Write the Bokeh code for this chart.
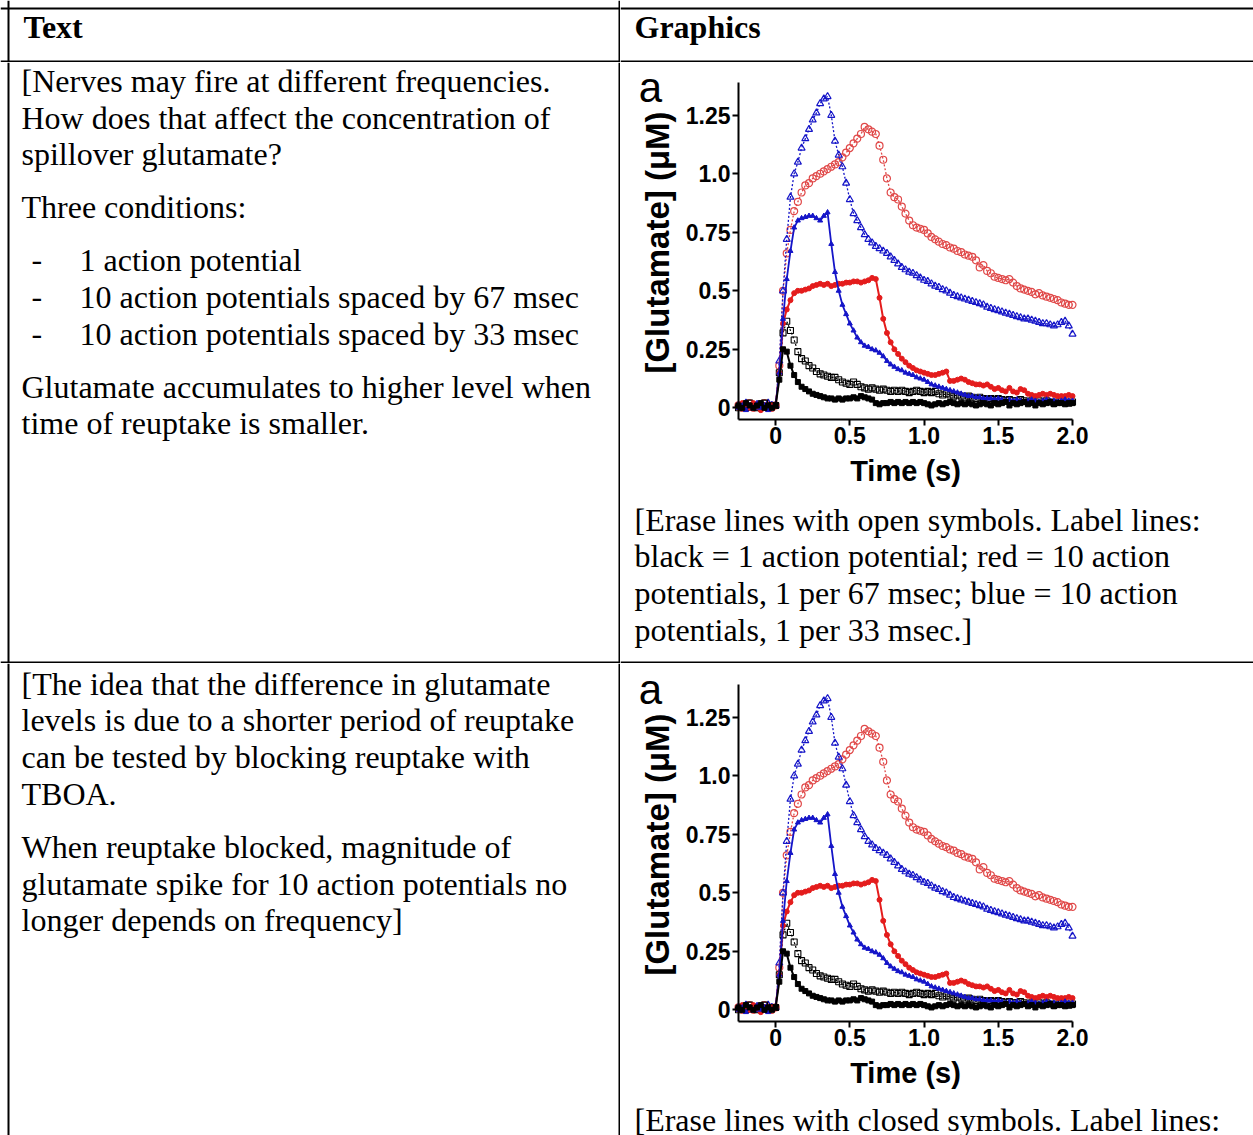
import math
from bokeh.plotting import figure
from bokeh.models import Range1d, Span, Label, FixedTicker, ColumnDataSource, LinearAxis
from bokeh.layouts import column, row
from bokeh.embed import file_html
from bokeh.resources import INLINE

# ---------------- data ----------------
time_s = [
    -0.25, -0.225, -0.2, -0.175, -0.15, -0.125, -0.1, -0.075, -0.05, -0.025,
    0.0, 0.025, 0.05, 0.075, 0.1, 0.125, 0.15, 0.175, 0.2, 0.225,
    0.25, 0.275, 0.3, 0.325, 0.35, 0.375, 0.4, 0.425, 0.45, 0.475,
    0.5, 0.525, 0.55, 0.575, 0.6, 0.625, 0.65, 0.675, 0.7, 0.725,
    0.75, 0.775, 0.8, 0.825, 0.85, 0.875, 0.9, 0.925, 0.95, 0.975,
    1.0, 1.025, 1.05, 1.075, 1.1, 1.125, 1.15, 1.175, 1.2, 1.225,
    1.25, 1.275, 1.3, 1.325, 1.35, 1.375, 1.4, 1.425, 1.45, 1.475,
    1.5, 1.525, 1.55, 1.575, 1.6, 1.625, 1.65, 1.675, 1.7, 1.725,
    1.75, 1.775, 1.8, 1.825, 1.85, 1.875, 1.9, 1.925, 1.95, 1.975,
    2.0,
]

# 1 action potential (closed squares)
black_closed = [
    0.01, 0.0, 0.02, 0.01, 0.0, 0.01, 0.02, 0.0, 0.01, 0.0,
    0.01, 0.12, 0.25, 0.24, 0.18, 0.14, 0.11, 0.09, 0.08, 0.07,
    0.06, 0.055, 0.05, 0.045, 0.04, 0.04, 0.035, 0.04, 0.035, 0.04,
    0.04, 0.045, 0.04, 0.05, 0.045, 0.04, 0.035, 0.02, 0.015, 0.02,
    0.02, 0.025, 0.02, 0.025, 0.02, 0.025, 0.02, 0.025, 0.02, 0.025,
    0.02, 0.015, 0.01, 0.015, 0.02, 0.015, 0.02, 0.025, 0.02, 0.015,
    0.02, 0.015, 0.02, 0.015, 0.01, 0.015, 0.02, 0.015, 0.01, 0.02,
    0.015, 0.02, 0.025, 0.01, 0.02, 0.015, 0.02, 0.025, 0.015, 0.02,
    0.01, 0.02, 0.015, 0.02, 0.025, 0.015, 0.02, 0.02, 0.015, 0.02,
    0.02,
]
# 1 action potential (open squares)
black_open = [
    0.0, 0.01, 0.0, 0.02, 0.01, 0.0, 0.01, 0.02, 0.0, 0.01,
    0.01, 0.15, 0.32, 0.37, 0.33, 0.29, 0.24, 0.21, 0.20, 0.18,
    0.17, 0.155, 0.145, 0.14, 0.135, 0.13, 0.13, 0.12, 0.11, 0.105,
    0.10, 0.11, 0.10, 0.09, 0.085, 0.08, 0.085, 0.08, 0.075, 0.08,
    0.075, 0.07, 0.075, 0.07, 0.075, 0.07, 0.065, 0.07, 0.075, 0.07,
    0.065, 0.07, 0.065, 0.07, 0.06, 0.055, 0.06, 0.055, 0.05, 0.055,
    0.05, 0.045, 0.05, 0.045, 0.04, 0.045, 0.04, 0.035, 0.04, 0.035,
    0.04, 0.035, 0.03, 0.035, 0.03, 0.03, 0.035, 0.03, 0.025, 0.03,
    0.025, 0.03, 0.025, 0.03, 0.025, 0.02, 0.025, 0.03, 0.025, 0.02,
    0.025,
]
# 10 APs, 1 per 67 msec (closed circles)
red_closed = [
    0.0, 0.02, 0.01, 0.0, 0.02, 0.01, -0.01, 0.01, 0.0, 0.01,
    0.01, 0.15, 0.36, 0.42, 0.46, 0.49, 0.50, 0.50, 0.505, 0.51,
    0.52, 0.525, 0.53, 0.525, 0.53, 0.52, 0.525, 0.53, 0.53, 0.535,
    0.535, 0.54, 0.54, 0.535, 0.54, 0.545, 0.555, 0.55, 0.47, 0.38,
    0.32, 0.28, 0.25, 0.23, 0.21, 0.195, 0.18, 0.17, 0.16, 0.155,
    0.15, 0.145, 0.14, 0.14, 0.145, 0.15, 0.155, 0.115, 0.115, 0.12,
    0.125, 0.12, 0.11, 0.105, 0.10, 0.10, 0.095, 0.10, 0.09, 0.08,
    0.085, 0.075, 0.07, 0.085, 0.07, 0.065, 0.08, 0.075, 0.06, 0.055,
    0.05, 0.055, 0.06, 0.055, 0.06, 0.055, 0.05, 0.05, 0.05, 0.055,
    0.05,
]
# 10 APs, 1 per 67 msec (open circles)
red_open = [
    0.01, 0.0, 0.01, 0.02, 0.0, 0.01, 0.0, 0.02, 0.01, 0.0,
    0.01, 0.18, 0.50, 0.66, 0.76, 0.84, 0.88, 0.92, 0.95, 0.96,
    0.98, 0.99, 1.0, 1.01, 1.02, 1.03, 1.04, 1.05, 1.07, 1.09,
    1.11, 1.13, 1.15, 1.17, 1.20, 1.19, 1.18, 1.17, 1.12, 1.06,
    0.98, 0.92, 0.90, 0.89, 0.86, 0.83, 0.80, 0.78, 0.77, 0.765,
    0.76, 0.745, 0.73, 0.72, 0.71, 0.70, 0.695, 0.685, 0.68, 0.67,
    0.665, 0.655, 0.65, 0.645, 0.63, 0.60, 0.61, 0.585, 0.575, 0.56,
    0.555, 0.55, 0.545, 0.55, 0.535, 0.52, 0.51, 0.505, 0.50, 0.495,
    0.485, 0.49, 0.48, 0.475, 0.47, 0.465, 0.46, 0.45, 0.445, 0.44,
    0.44,
]
# 10 APs, 1 per 33 msec (closed triangles)
blue_closed = [
    0.0, 0.01, -0.01, 0.01, 0.0, 0.02, 0.0, 0.01, -0.01, 0.0,
    0.01, 0.15, 0.38, 0.55, 0.67, 0.77, 0.80, 0.81, 0.815, 0.82,
    0.82, 0.81, 0.80, 0.82, 0.835, 0.70, 0.58, 0.50, 0.44, 0.40,
    0.36, 0.33, 0.30, 0.28, 0.265, 0.26, 0.25, 0.245, 0.235, 0.22,
    0.20, 0.185, 0.175, 0.165, 0.16, 0.15, 0.145, 0.14, 0.13, 0.125,
    0.12, 0.11, 0.10, 0.095, 0.09, 0.085, 0.08, 0.075, 0.07, 0.065,
    0.06, 0.055, 0.05, 0.05, 0.045, 0.045, 0.04, 0.04, 0.04, 0.035,
    0.04, 0.035, 0.03, 0.035, 0.03, 0.035, 0.03, 0.025, 0.03, 0.035,
    0.03, 0.025, 0.03, 0.035, 0.03, 0.03, 0.025, 0.03, 0.035, 0.03,
    0.03,
]
# 10 APs, 1 per 33 msec (open triangles)
blue_open = [
    0.01, 0.0, 0.02, 0.0, 0.01, 0.0, 0.01, 0.0, 0.02, 0.01,
    0.01, 0.20, 0.50, 0.72, 0.90, 1.0, 1.05, 1.11, 1.15, 1.19,
    1.23, 1.26, 1.30, 1.32, 1.33, 1.25, 1.14, 1.08, 1.03, 0.96,
    0.89, 0.83, 0.80, 0.77, 0.74, 0.72, 0.705, 0.69, 0.68, 0.67,
    0.66, 0.645, 0.63, 0.615, 0.60, 0.59, 0.58, 0.575, 0.565, 0.555,
    0.545, 0.54, 0.53, 0.52, 0.515, 0.505, 0.50, 0.49, 0.48, 0.475,
    0.47, 0.465, 0.46, 0.455, 0.45, 0.445, 0.44, 0.43, 0.425, 0.42,
    0.415, 0.41, 0.405, 0.40, 0.395, 0.39, 0.385, 0.38, 0.38, 0.375,
    0.37, 0.365, 0.36, 0.36, 0.355, 0.35, 0.355, 0.365, 0.37, 0.35,
    0.315,
]

x_tick_values = [0, 0.5, 1.0, 1.5, 2.0]
x_tick_labels = ["0", "0.5", "1.0", "1.5", "2.0"]
y_tick_values = [0, 0.25, 0.5, 0.75, 1.0, 1.25]
y_tick_labels = ["0", "0.25", "0.5", "0.75", "1.0", "1.25"]
x_axis_title = "Time (s)"
y_axis_title = "[Glutamate] (\u03bcM)"
panel_letter = "a"

header_texts = ["Text", "Graphics"]
row1_text = [
    "[Nerves may fire at different frequencies.",
    "How does that affect the concentration of",
    "spillover glutamate?",
    "Three conditions:",
]
row1_bullets = [
    "1 action potential",
    "10 action potentials spaced by 67 msec",
    "10 action potentials spaced by 33 msec",
]
row1_tail = [
    "Glutamate accumulates to higher level when",
    "time of reuptake is smaller.",
]
caption1 = [
    "[Erase lines with open symbols. Label lines:",
    "black = 1 action potential; red = 10 action",
    "potentials, 1 per 67 msec; blue = 10 action",
    "potentials, 1 per 33 msec.]",
]
row2_text = [
    "[The idea that the difference in glutamate",
    "levels is due to a shorter period of reuptake",
    "can be tested by blocking reuptake with",
    "TBOA.",
    "When reuptake blocked, magnitude of",
    "glutamate spike for 10 action potentials no",
    "longer depends on frequency]",
]
caption2 = ["[Erase lines with closed symbols. Label lines:"]

# ---------------- styling / layout constants ----------------
SERIF = "Liberation Serif"
SANS = "Liberation Sans"
TXT = "32px"
BLUE = "#1515c8"
RED = "#e41c1c"
RED_OPEN = "#e04848"

W_L, W_R = 620, 633          # column widths
H_HEAD, H_R1, H_R2 = 62, 601, 472
X0, X1 = -0.25, 2.0          # plotted axis extents
Y0, Y1 = -0.05, 1.39
LB, FW, FH = 118, 334, 337   # chart inset and frame size (px)
KX = FW / (X1 - X0)
KY = FH / (Y1 - Y0)


def cell(w, h, borders=()):
    p = figure(width=w, height=h, x_range=Range1d(0, w), y_range=Range1d(h, 0),
               x_axis_type=None, y_axis_type=None, toolbar_location=None,
               output_backend="svg", min_border=0, outline_line_color=None,
               background_fill_color="white", border_fill_color="white")
    for dim, loc in borders:
        p.add_layout(Span(location=loc, dimension=dim, line_color="black", line_width=2))
    return p


def put(p, x, y, txt, bold=False, size=TXT, font=SERIF, align="left", angle=0.0):
    p.add_layout(Label(x=x, y=y, text=txt, text_font=font, text_font_size=size,
                       text_font_style="bold" if bold else "normal", angle=angle,
                       text_baseline="middle", text_align=align, text_color="black"))


def chart(h, tb, captions, cap_y, bottom_line):
    x_start = X0 - LB / KX
    x_end = X1 + (W_R - LB - FW) / KX
    y_end = Y1 + tb / KY
    y_start = Y0 - (h - tb - FH) / KY

    def px(lx):
        return x_start + lx / KX

    def py(ly):
        return y_end - ly / KY

    p = figure(width=W_R, height=h, x_range=Range1d(x_start, x_end),
               y_range=Range1d(y_start, y_end), x_axis_type=None, y_axis_type=None,
               min_border=0, toolbar_location=None, output_backend="svg",
               outline_line_color=None, background_fill_color="white",
               border_fill_color="white")
    src = ColumnDataSource(dict(t=time_s, bc=black_closed, bo=black_open,
                                rc=red_closed, ro=red_open,
                                uc=blue_closed, uo=blue_open))
    # open-symbol series (dotted)
    p.line("t", "ro", source=src, line_color=RED_OPEN, line_width=1.3, line_dash="2 2")
    p.scatter("t", "ro", source=src, marker="circle", size=7, line_color=RED_OPEN,
              fill_color=None, line_width=1.2)
    p.line("t", "uo", source=src, line_color=BLUE, line_width=1.3, line_dash="2 2")
    p.scatter("t", "uo", source=src, marker="triangle", size=7, line_color=BLUE,
              fill_color=None, line_width=1.2)
    p.line("t", "bo", source=src, line_color="black", line_width=1.2, line_dash="2 2")
    p.scatter("t", "bo", source=src, marker="square", size=6, line_color="black",
              fill_color=None, line_width=1.1)
    # closed-symbol series (solid)
    p.line("t", "rc", source=src, line_color=RED, line_width=2)
    p.scatter("t", "rc", source=src, marker="circle", size=5, color=RED)
    p.line("t", "uc", source=src, line_color=BLUE, line_width=1.8)
    p.scatter("t", "uc", source=src, marker="triangle", size=5, color=BLUE)
    p.line("t", "bc", source=src, line_color="black", line_width=2)
    p.scatter("t", "bc", source=src, marker="square", size=5, color="black")

    xaxis = LinearAxis(fixed_location=Y0, bounds=(X0, X1),
                       ticker=FixedTicker(ticks=x_tick_values),
                       major_label_overrides=dict(zip(x_tick_values, x_tick_labels)))
    yaxis = LinearAxis(fixed_location=X0, bounds=(Y0, Y1),
                       ticker=FixedTicker(ticks=y_tick_values),
                       major_label_overrides=dict(zip(y_tick_values, y_tick_labels)))
    for ax in (xaxis, yaxis):
        ax.axis_line_width = 2
        ax.axis_line_color = "black"
        ax.major_tick_line_width = 2
        ax.major_tick_out = 6
        ax.major_tick_in = 0
        ax.minor_tick_out = 0
        ax.minor_tick_in = 0
        ax.major_label_text_font = SANS
        ax.major_label_text_font_style = "bold"
        ax.major_label_text_font_size = "23px"
        ax.major_label_text_color = "black"
    xaxis.major_label_standoff = 1
    yaxis.major_label_standoff = 2
    p.add_layout(xaxis, "below")
    p.add_layout(yaxis, "left")

    # axis titles and panel letter
    put(p, px(LB + FW / 2), py(tb + 388), x_axis_title, bold=True, size="29px",
        font=SANS, align="center")
    put(p, px(37), py(tb + 160), y_axis_title, bold=True, size="33px", font=SANS,
        align="center", angle=math.pi / 2)
    put(p, px(30), py(tb + 5), panel_letter, size="42px", font=SANS, align="center")

    for ly, s in zip(cap_y, captions):
        put(p, px(14), py(ly), s)
    if bottom_line:
        p.add_layout(Span(location=py(h - 1), dimension="width",
                          line_color="black", line_width=2))
    return p


# header row
hdr_l = cell(W_L, H_HEAD, [("width", 8), ("width", 61), ("height", 8), ("height", 619)])
put(hdr_l, 23, 26, header_texts[0], bold=True)
hdr_r = cell(W_R, H_HEAD, [("width", 8), ("width", 61)])
put(hdr_r, 14, 26, header_texts[1], bold=True)

# row 1
txt1 = cell(W_L, H_R1, [("height", 8), ("height", 619), ("width", 600)])
for y, s in zip([18, 55, 91, 144], row1_text):
    put(txt1, 21, y, s)
for y, s in zip([197, 234, 271], row1_bullets):
    put(txt1, 31, y, "-")
    put(txt1, 79, y, s)
for y, s in zip([324, 360], row1_tail):
    put(txt1, 21, y, s)

chart1 = chart(H_R1, 20, caption1, [457, 493, 530, 567], True)

# row 2
txt2 = cell(W_L, H_R2, [("height", 8), ("height", 619)])
for y, s in zip([20, 56, 93, 130, 183, 220, 256], row2_text):
    put(txt2, 21, y, s)

chart2 = chart(H_R2, 21, caption2, [456], False)

layout = column(
    row(hdr_l, hdr_r),
    row(txt1, chart1),
    row(txt2, chart2),
)

open("out.html", "w").write(file_html(layout, INLINE))
